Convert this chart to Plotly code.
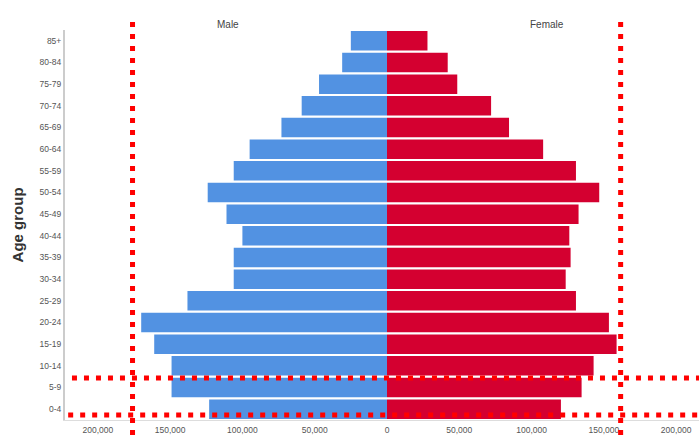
import plotly.graph_objects as go

age_groups = ["0-4", "5-9", "10-14", "15-19", "20-24", "25-29", "30-34", "35-39", "40-44",
              "45-49", "50-54", "55-59", "60-64", "65-69", "70-74", "75-79", "80-84", "85+"]
male = [123000, 149000, 149000, 161000, 170000, 138000, 106000, 106000, 100000,
        111000, 124000, 106000, 95000, 73000, 59000, 47000, 31000, 25000]
female = [120300, 134600, 142900, 158800, 153500, 130700, 123600, 127000, 126100,
          132500, 146800, 130700, 108000, 84400, 72000, 48600, 42000, 28000]
tick_vals = [-200000, -150000, -100000, -50000, 0, 50000, 100000, 150000, 200000]
tick_text = ["200,000", "150,000", "100,000", "50,000", "0", "50,000", "100,000", "150,000", "200,000"]

BLUE = "#5292E2"
RED = "#D40030"

fig = go.Figure()
fig.add_trace(go.Bar(y=age_groups, x=[-v for v in male], orientation="h", name="Male",
                     marker=dict(color=BLUE, line=dict(width=0))))
fig.add_trace(go.Bar(y=age_groups, x=female, orientation="h", name="Female",
                     marker=dict(color=RED, line=dict(width=0))))

fig.update_layout(
    width=699, height=436,
    margin=dict(l=65, r=0, t=30, b=16),
    barmode="relative", bargap=0.1,
    plot_bgcolor="white", paper_bgcolor="white",
    showlegend=False,
    font=dict(family="Liberation Sans, Arial, sans-serif", color="#555"),
    xaxis=dict(range=[-222700, 215800], tickvals=tick_vals, ticktext=tick_text,
               tickfont=dict(size=8.5, color="#555"), showgrid=False, zeroline=False,
               showline=True, linecolor="#ddd", linewidth=1, ticks="", ticklabelstandoff=2,
               automargin=False),
    yaxis=dict(categoryorder="array", categoryarray=age_groups, range=[-0.5, 17.5],
               tickfont=dict(size=8.5, color="#555"), showgrid=False, zeroline=False,
               showline=True, linecolor="#ccc", linewidth=2, ticks="", automargin=False),
)

fig.add_annotation(x=-0.075, y=0.5, xref="paper", yref="paper", xanchor="center", yanchor="middle",
                   text="<b>Age group</b>", textangle=-90, showarrow=False,
                   font=dict(size=15, color="#333"))
fig.add_annotation(x=-110000, y=1, xref="x", yref="paper", yshift=13, text="Male",
                   showarrow=False, font=dict(size=10, color="#444"))
fig.add_annotation(x=111000, y=1, xref="x", yref="paper", yshift=13, text="Female",
                   showarrow=False, font=dict(size=10, color="#444"))

dot = dict(color="#FF0000", width=5, dash="5px,7px")
fig.add_shape(type="line", xref="x", yref="paper", x0=-176000, x1=-176000, y0=1.0205, y1=-0.041, line=dot)
fig.add_shape(type="line", xref="x", yref="paper", x0=161600, x1=161600, y0=1.0205, y1=-0.041, line=dot)
fig.add_shape(type="line", xref="paper", yref="y", x0=0.011, x1=1.0, y0=1.44, y1=1.44, line=dot)
fig.add_shape(type="line", xref="paper", yref="y", x0=0.005, x1=1.0, y0=-0.27, y1=-0.27, line=dot)

fig.write_html("out.html", config={"displayModeBar": False},
               post_script="document.body.style.margin='0';document.body.style.overflow='hidden';")
